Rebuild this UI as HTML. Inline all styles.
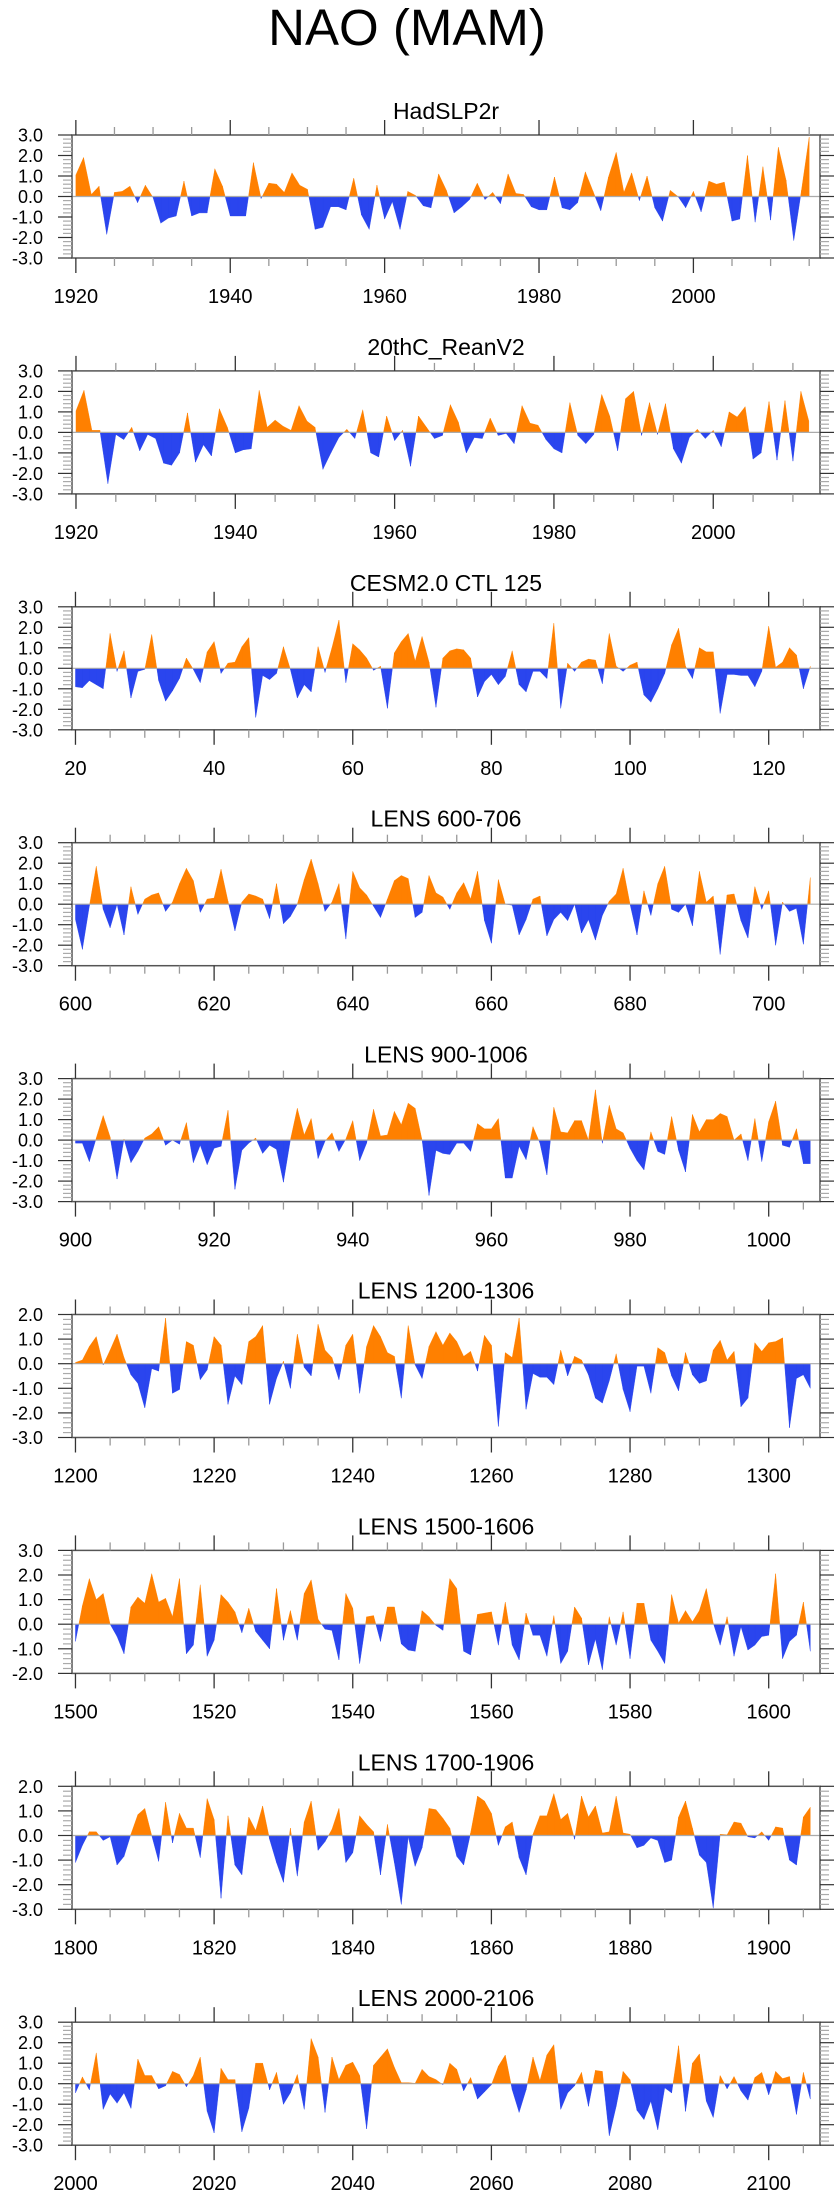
<!DOCTYPE html>
<html><head><meta charset="utf-8"><style>
html,body{margin:0;padding:0;background:#fff;}
svg{display:block;font-family:"Liberation Sans",Arial,sans-serif;}
</style></head>
<body>
<svg id="chart" width="840" height="2200" viewBox="0 0 840 2200" xmlns="http://www.w3.org/2000/svg">
<text x="407" y="45" font-size="51" text-anchor="middle">NAO (MAM)</text>
</svg>
<script>
const panelTitles = ["HadSLP2r","20thC_ReanV2","CESM2.0 CTL 125","LENS 600-706","LENS 900-1006","LENS 1200-1306","LENS 1500-1606","LENS 1700-1906","LENS 2000-2106"];
const startYears = [1920,1920,20,600,900,1200,1500,1800,2000];
const xTickLabels = [
 [1920,1940,1960,1980,2000],[1920,1940,1960,1980,2000],[20,40,60,80,100,120],
 [600,620,640,660,680,700],[900,920,940,960,980,1000],[1200,1220,1240,1260,1280,1300],
 [1500,1520,1540,1560,1580,1600],[1800,1820,1840,1860,1880,1900],[2000,2020,2040,2060,2080,2100]];
const yMaxs = [3,3,3,3,3,2,3,2,3];
const yMins = [-3,-3,-3,-3,-3,-3,-2,-3,-3];
const s1 = [1.05,1.9,0.1,0.5,-1.85,0.2,0.25,0.5,-0.3,0.55,-0.05,-1.3,-1.05,-0.95,0.75,-0.95,-0.8,-0.8,1.35,0.5,-0.95,-0.95,-0.95,1.65,-0.1,0.65,0.6,0.2,1.15,0.55,0.35,-1.6,-1.5,-0.5,-0.5,-0.65,0.9,-0.9,-1.6,0.55,-1.1,-0.25,-1.6,0.25,0.05,-0.45,-0.55,1.1,0.3,-0.8,-0.5,-0.15,0.65,-0.15,0.2,-0.35,1.1,0.15,0.1,-0.5,-0.65,-0.65,0.95,-0.55,-0.65,-0.3,1.2,0.25,-0.7,0.95,2.15,0.2,1.15,-0.2,1.0,-0.55,-1.2,0.3,0,-0.55,0.25,-0.75,0.75,0.6,0.7,-1.2,-1.1,2.0,-1.25,1.45,-1.15,2.4,0.8,-2.15,0.3,2.9];
const s2 = [1.05,2.05,0.1,0.1,-2.5,-0.1,-0.35,0.25,-0.9,-0.1,-0.3,-1.5,-1.6,-1.0,0.95,-1.45,-0.6,-1.15,1.15,0.25,-1.0,-0.85,-0.8,2.05,0.25,0.6,0.3,0.1,1.3,0.55,0.25,-1.8,-1.0,-0.25,0.15,-0.3,1.1,-1.0,-1.2,0.8,-0.4,0.1,-1.65,0.8,0.25,-0.3,-0.15,1.35,0.5,-1.0,-0.25,-0.3,0.7,-0.15,-0.05,-0.55,1.3,0.45,0.35,-0.35,-0.8,-1.0,1.45,-0.15,-0.55,-0.1,1.85,0.8,-0.9,1.65,2.0,-0.15,1.45,-0.1,1.4,-0.8,-1.5,-0.25,0.15,-0.3,0.1,-0.7,1.0,0.75,1.25,-1.3,-1.0,1.5,-1.35,1.55,-1.4,2.0,0.55];
const s3 = [-0.9,-0.95,-0.6,-0.8,-1.0,1.7,-0.15,0.85,-1.45,-0.15,-0.05,1.65,-0.6,-1.6,-1.1,-0.5,0.5,-0.05,-0.7,0.8,1.3,-0.25,0.25,0.3,1.05,1.5,-2.4,-0.35,-0.55,-0.25,1.05,-0.05,-1.45,-0.8,-1.15,1.05,-0.2,1.0,2.35,-0.7,1.2,0.9,0.5,-0.1,0.1,-1.95,0.75,1.3,1.7,0.35,1.55,0.3,-1.9,0.5,0.85,0.95,0.9,0.5,-1.4,-0.65,-0.3,-0.8,-0.4,0.85,-0.8,-1.15,-0.15,-0.15,-0.5,2.2,-1.95,0.25,-0.15,0.3,0.45,0.4,-0.75,1.7,0.1,-0.15,0.15,0.3,-1.3,-1.65,-1.0,-0.25,1.15,1.95,0.1,-0.5,1.0,0.8,0.8,-2.2,-0.3,-0.3,-0.35,-0.35,-0.9,-0.15,2.05,0.05,0.3,1.0,0.65,-1.0,0.1];
const s4 = [-0.75,-2.2,-0.1,1.85,-0.25,-1.15,0,-1.5,0.85,-0.5,0.25,0.45,0.55,-0.35,0.1,1.0,1.75,1.15,-0.4,0.25,0.3,1.7,0.15,-1.3,0.1,0.5,0.4,0.25,-0.7,1.0,-0.95,-0.6,0,1.2,2.2,1.0,-0.35,0.1,1.0,-1.7,1.6,0.8,0.45,-0.1,-0.65,0.25,1.15,1.4,1.25,-0.65,-0.4,1.4,0.55,0.35,-0.25,0.55,1.05,0.25,1.6,-0.8,-1.9,1.2,0,-0.05,-1.5,-0.75,0.25,0.4,-1.55,-0.75,-0.4,-0.8,0,-1.4,-0.75,-1.75,-0.55,0.15,0.5,1.75,0,-1.5,0.65,-0.55,1.0,1.85,-0.25,-0.4,0,-1.05,1.6,0.1,0.4,-2.45,0.45,0.5,-0.8,-1.65,0.85,-0.25,0.65,-2.0,0.1,-0.35,-0.2,-1.95,1.3];
const s5 = [-0.15,-0.15,-1.05,0.1,1.2,0.15,-1.9,0.05,-1.1,-0.55,0.1,0.3,0.65,-0.25,0,-0.2,0.85,-1.1,-0.25,-1.2,-0.4,-0.3,1.45,-2.4,-0.5,-0.15,0.1,-0.65,-0.25,-0.45,-2.05,0,1.55,0.25,1.05,-0.9,-0.05,0.35,-0.55,0.05,0.95,-1.0,-0.15,1.5,0.2,0.25,1.4,0.75,1.8,1.55,0,-2.7,-0.5,-0.65,-0.7,-0.15,-0.15,-0.55,0.8,0.55,0.55,1.05,-1.85,-1.85,-0.3,-0.95,0.65,-0.15,-1.7,1.6,0.4,0.35,0.95,0.95,0,2.45,-0.15,1.7,0.55,0.35,-0.4,-1.0,-1.45,0.4,-0.55,-0.7,1.15,-0.5,-1.55,1.25,0.4,1.0,1.0,1.3,1.15,0,0.3,-1.0,1.05,-1.05,0.9,1.9,-0.25,-0.35,0.55,-1.15,-1.15];
const s6 = [0.05,0.15,0.7,1.1,-0.05,0.55,1.2,0.25,-0.45,-0.8,-1.8,-0.2,-0.3,1.85,-1.2,-1.05,0.9,0.75,-0.65,-0.25,1.1,0.75,-1.65,-0.5,-0.85,0.9,1.1,1.55,-1.65,-0.6,0.1,-1.0,1.2,-0.15,-0.5,1.6,0.55,0.25,-0.65,0.75,1.2,-1.2,0.7,1.55,1.1,0.45,0.3,-1.4,1.55,-0.05,-0.6,0.7,1.3,0.75,1.25,0.9,0.3,0.5,-0.3,1.15,0.75,-2.55,0.45,0.25,1.85,-1.85,-0.4,-0.55,-0.55,-0.85,0.55,-0.5,0.3,0.15,-0.45,-1.4,-1.6,-0.7,0.4,-1.05,-1.95,-0.1,-0.1,-1.2,0.65,0.45,-0.5,-1.1,0.45,-0.45,-0.8,-0.7,0.55,0.95,0.15,0.5,-1.75,-1.4,0.85,0.5,0.85,0.9,1.05,-2.6,-0.6,-0.45,-1.0];
const s7 = [-0.7,0.75,1.85,1.0,1.25,0,-0.5,-1.2,0.7,1.1,0.85,2.05,0.9,1.05,0.3,1.85,-1.2,-0.85,1.6,-1.3,-0.65,1.2,0.9,0.5,-0.35,0.65,-0.3,-0.65,-1.0,1.45,-0.65,0.55,-0.65,1.25,1.8,0.2,-0.2,-0.25,-1.45,1.25,0.65,-1.6,0.3,0.35,-0.7,0.7,0.7,-0.8,-1.05,-1.1,0.55,0.3,-0.05,-0.25,1.85,1.45,-1.1,-1.25,0.4,0.45,0.5,-0.85,0.9,-0.85,-1.45,0.45,-0.45,-0.45,-1.3,0.35,-1.6,-1.1,0.7,0.25,-1.65,-0.6,-1.85,0.3,-0.85,0.5,-1.4,0.85,0.85,-0.65,-1.1,-1.6,1.2,0.05,0.55,0.1,0.55,1.45,0.05,-0.85,0.3,-1.3,-0.1,-1.05,-0.85,-0.5,-0.45,2.05,-1.4,-0.7,-0.45,0.9,-1.1];
const s8 = [-1.1,-0.4,0.15,0.15,-0.2,-0.05,-1.2,-0.85,0.05,0.85,1.1,0,-1.05,1.35,-0.3,0.9,0.3,0.3,-0.9,1.5,0.65,-2.55,0.8,-1.2,-1.6,0.75,0.2,1.2,-0.15,-1.1,-1.9,0.3,-1.65,0.55,1.4,-0.6,-0.25,0.25,1.1,-1.1,-0.7,0.8,0.45,0.15,-1.6,0.45,-1.1,-2.8,-0.05,-1.25,-0.5,1.1,1.05,0.7,0.3,-0.85,-1.2,0.1,1.6,1.4,0.9,-0.4,0.35,0.55,-0.9,-1.6,0.05,0.8,0.8,1.7,0.65,0.9,-0.15,1.6,0.75,1.2,0.1,0.15,1.6,0.1,0.05,-0.5,-0.4,-0.1,-0.2,-1.1,-1.0,0.75,1.4,0.3,-0.8,-1.1,-2.95,0.05,0.03,0.55,0.5,-0.05,-0.1,0.15,-0.2,0.35,0.3,-1.0,-1.2,0.75,1.15];
const s9 = [-0.45,0.33,-0.3,1.5,-1.25,-0.5,-0.95,-0.45,-1.2,1.2,0.4,0.4,-0.25,-0.1,0.6,0.45,-0.15,0.4,1.3,-1.35,-2.4,0.75,0.2,0.2,-2.35,-1.2,1.0,1.0,-0.3,0.55,-1.0,-0.45,0.45,-1.25,2.2,1.3,-1.4,1.3,0.2,0.9,1.05,0.4,-2.2,0.9,1.3,1.7,0.8,0.05,0.05,0.02,0.7,0.35,0.2,-0.05,1.0,0.7,-0.35,0.3,-0.75,-0.4,-0.05,0.85,1.4,-0.3,-1.4,-0.3,1.3,0.15,1.4,1.9,-1.25,-0.45,-0.1,0.55,-1.1,0.65,0.6,-2.55,-1.1,0.6,0.2,-1.3,-1.75,-0.85,-2.25,-0.2,-0.45,1.85,-1.35,1.0,1.45,-0.85,-1.65,0.4,-0.25,0.35,-0.35,-0.8,0.3,0.55,-0.55,0.6,0.25,0.35,-1.5,0.55,-0.75];
const seriesList = [s1,s2,s3,s4,s5,s6,s7,s8,s9];

const NS = "http://www.w3.org/2000/svg";
const svg = document.getElementById('chart');
function mk(tag, attrs, parent){const e=document.createElementNS(NS,tag);for(const k in attrs)e.setAttribute(k,attrs[k]);(parent||svg).appendChild(e);return e;}
const L=72,R=820,H=123;
function drawPanel(p){
  const top = 135 + 235.9*p, bot = top+H;
  const vals = seriesList[p], y0 = startYears[p];
  const xmin = y0-0.5, xmax = y0+vals.length-1+1.4;
  const ymax = yMaxs[p], ymin = yMins[p];
  const xs = t => L + (t-xmin)/(xmax-xmin)*(R-L);
  const ys = v => top + (ymax-v)/(ymax-ymin)*H;
  const g = mk('g',{});
  
  
  const t = mk('text',{x:446,y:top-16,'font-size':23,'text-anchor':'middle'},g);
  
  
  t.textContent = panelTitles[p];
  let pos='', neg='';
  const zy = ys(0);
  for(let i=0;i<vals.length-1;i++){
    const a=vals[i], b=vals[i+1], xa=xs(y0+i), xb=xs(y0+i+1);
    const segs=[];
    if((a>=0&&b>=0)||(a<=0&&b<=0)) segs.push([xa,a,xb,b]);
    else { const f=a/(a-b), xc=xa+f*(xb-xa); segs.push([xa,a,xc,0]); segs.push([xc,0,xb,b]); }
    for(const s of segs){
      const d=`M${s[0]},${zy}L${s[0]},${ys(s[1])}L${s[2]},${ys(s[3])}L${s[2]},${zy}Z`;
      if(s[1]+s[3]>0) pos+=d; else if(s[1]+s[3]<0) neg+=d;
    }
  }
  const pp = mk('path',{d:pos,fill:'#ff8000',stroke:'#ff8000','stroke-width':0.4},g);
  
  
  const np = mk('path',{d:neg,fill:'#2a45ee',stroke:'#2a45ee','stroke-width':0.4},g);
  
  
  const zl = mk('line',{x1:L,x2:R,y1:zy,y2:zy,stroke:'#aaa','stroke-width':1.2},g);
  
  
  const fr = mk('rect',{x:L,y:top,width:R-L,height:H,fill:'none',stroke:'#555','stroke-width':1.5},g);
  
  
  for(let k=Math.round(ymin*5);k<=Math.round(ymax*5);k++){
    const v=k/5, y=ys(v), major=(k%5===0);
    const len = major?14:9, col = major?'#333':'#aaa';
    mk('line',{x1:L-len,x2:L,y1:y,y2:y,stroke:col,'stroke-width':1.2},g);
    mk('line',{x1:R,x2:R+len,y1:y,y2:y,stroke:col,'stroke-width':1.2},g);
    if(major){
      const lb = mk('text',{x:43,y:y+6.5,'font-size':18,'text-anchor':'end'},g);
      
      
      lb.textContent = v.toFixed(1);
    }
  }
  const first = Math.ceil(xmin/5)*5;
  for(let yr=first; yr<=xmax; yr+=5){
    const x=xs(yr), major = xTickLabels[p].indexOf(yr)>=0;
    const len = major?15:8, col = major?'#333':'#999';
    mk('line',{x1:x,x2:x,y1:top-len,y2:top,stroke:col,'stroke-width':1.3},g);
    mk('line',{x1:x,x2:x,y1:bot,y2:bot+len,stroke:col,'stroke-width':1.3},g);
  }
  for(const yr of xTickLabels[p]){
    const lb = mk('text',{x:xs(yr),y:bot+45,'font-size':20,'text-anchor':'middle'},g);
    
    
    lb.textContent = yr;
  }
}
for(let p=0;p<9;p++) drawPanel(p);
</script>
</body></html>
